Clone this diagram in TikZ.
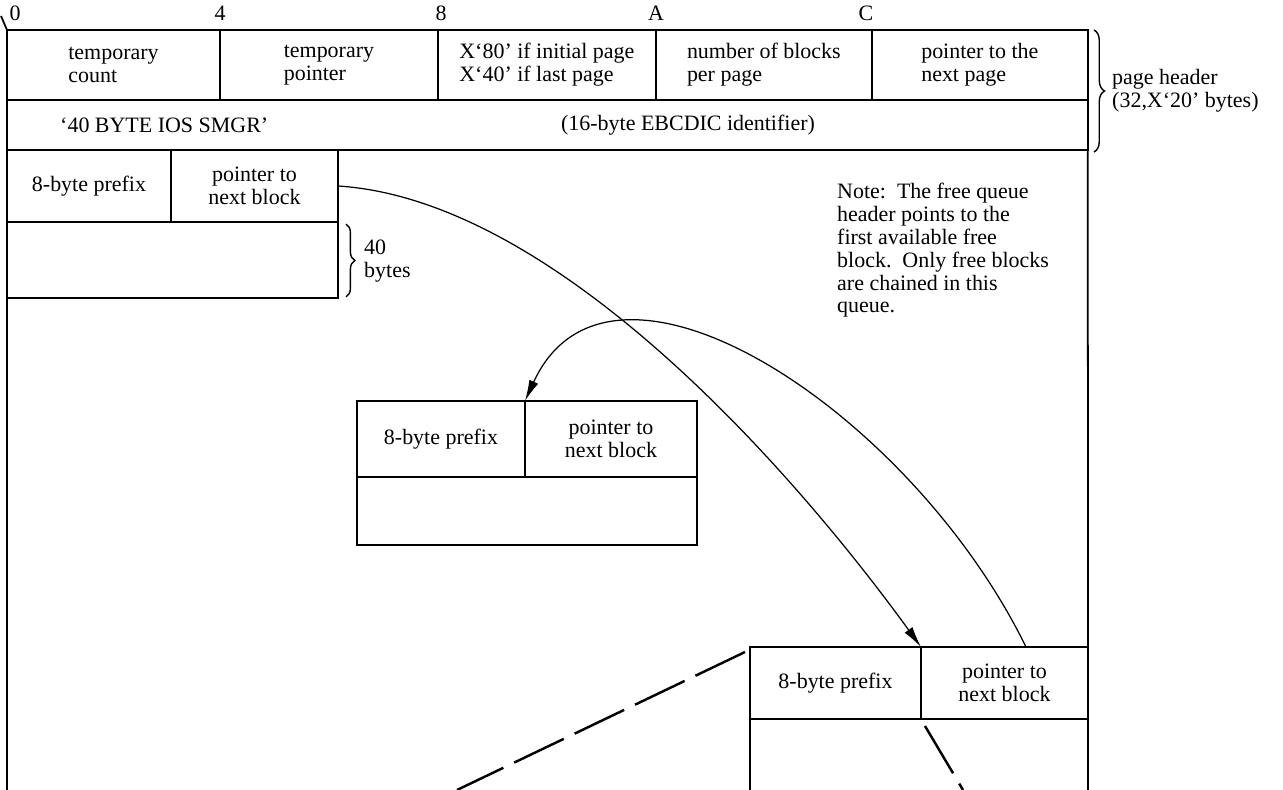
\documentclass[tikz,border=0pt]{standalone}
\usepackage{fontspec}
\setmainfont{Liberation Serif}
\usepackage{tikz}
\usetikzlibrary{calc, arrows.meta, decorations.pathreplacing, positioning}

\tikzset{
  field/.style={draw, line width=1pt, inner sep=0pt, outer sep=0pt, align=left, anchor=north west},
  link/.style={line width=0.7pt, -{Latex[length=12pt,width=5.5pt]}},
  cutline/.style={line width=1.4pt, dash pattern=on 1.1cm off 0.24cm},
  bracket/.style={decorate, decoration={brace, amplitude=#1}, line width=0.8pt}
}

\begin{document}
\begin{tikzpicture}[x=0.02cm, y=-0.02cm, font=\fontsize{12.5}{13}\selectfont]
\useasboundingbox (0,0) rectangle (1283,790);

%byte offsets
\foreach \x/\t in {15/0, 220/4, 441/8, 656/A, 866/C}
  \node (off\t) at (\x,13) {\t};

%page header, first row
\node[field, minimum width=4.26cm, minimum height=1.4cm] (cnt) at (7,30) {temporary\\count};
\node[field, minimum width=4.36cm, minimum height=1.4cm] (tptr) at (cnt.north east) {temporary\\pointer};
\node[field, minimum width=4.36cm, minimum height=1.4cm] (flag) at (tptr.north east) {X‘80’ if initial page\\X‘40’ if last page};
\node[field, minimum width=4.32cm, minimum height=1.4cm] (nblk) at (flag.north east) {number of blocks\\per page};
\node[field, minimum width=4.32cm, minimum height=1.4cm] (nxtp) at (nblk.north east) {pointer to the\\next page};
\draw[line width=1pt] (cnt.north west) -- ++(-6,-14);

%page header, second row
\node[field, minimum width=21.62cm, minimum height=1cm] (ident) at (cnt.south west) {};
\node[anchor=west] (idname) at (54,125) {‘40 BYTE IOS SMGR’};
\node (idtext) at (688,125) {(16-byte EBCDIC identifier)};

\draw[bracket=6pt] (1094,30) -- (1094,152);
\node[anchor=west, align=left] (hdrnote) at (1106,91) {page header\\(32,X‘20’ bytes)};

%page sides
\draw[line width=1pt] (ident.south west) -- (7,790);
\draw[line width=1pt] (ident.south east) -- (1088,790);

%first block
\node[field, minimum width=3.28cm, minimum height=1.44cm] (pfxa) at (7,150) {8-byte prefix};
\node[field, minimum width=3.34cm, minimum height=1.44cm, align=center] (ptra) at (pfxa.north east) {pointer to\\next block};
\node[field, minimum width=6.62cm, minimum height=1.52cm] (bodya) at (pfxa.south west) {};
\draw[bracket=5pt] (346,224) -- (346,297);
\node[anchor=west, align=left] (sizenote) at (358,261) {40\\bytes};

%second block
\node[field, minimum width=3.36cm, minimum height=1.52cm] (pfxb) at (357,401) {8-byte prefix};
\node[field, minimum width=3.44cm, minimum height=1.52cm, align=center] (ptrb) at (pfxb.north east) {pointer to\\next block};
\node[field, minimum width=6.8cm, minimum height=1.36cm] (bodyb) at (pfxb.south west) {};

%third block
\node[field, minimum width=3.42cm, minimum height=1.44cm] (pfxc) at (750,647) {8-byte prefix};
\node[field, minimum width=3.34cm, minimum height=1.44cm, align=center] (ptrc) at (pfxc.north east) {pointer to\\next block};
\draw[line width=1pt] (pfxc.south west) -- (750,790);

\node[anchor=north west, align=left] (note) at (831,177)
  {Note:\ \ The free queue\\header points to the\\first available free\\block.\ \ Only free blocks\\are chained in this\\queue.};

%free chain
\coordinate (linkc) at (1026,647);
\draw[link] (ptra.east) .. controls (560,200) and (800,480) .. (pfxc.north east);
\draw[link] (linkc) .. controls (910,410) and (610,215) .. (pfxb.north east);

%cut-away
\coordinate (cuta) at (745,652);
\coordinate (cutl) at (457,790);
\coordinate (cutb) at (925,726);
\coordinate (cutr) at (963,790);
\draw[cutline] (cuta) -- (cutl);
\draw[cutline] (cutb) -- (cutr);
\end{tikzpicture}
\end{document}
